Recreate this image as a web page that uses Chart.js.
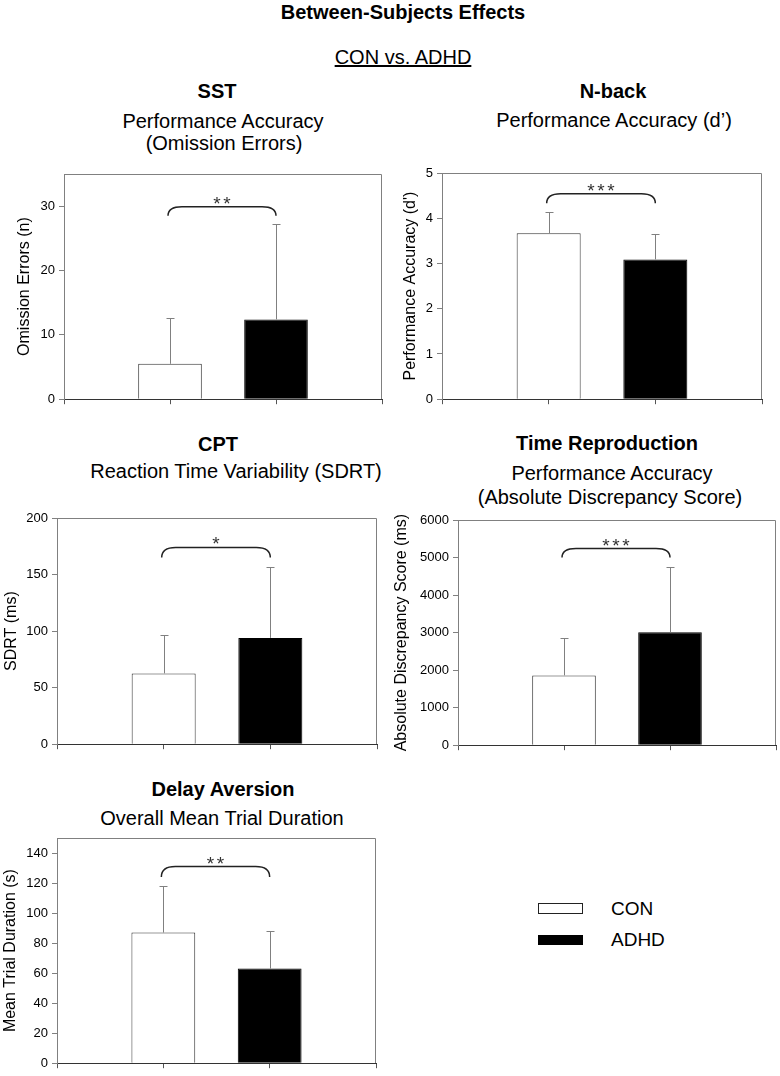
<!DOCTYPE html>
<html>
<head>
<meta charset="utf-8">
<script src="https://cdn.jsdelivr.net/npm/chart.js@4.4.0/dist/chart.umd.min.js"></script>
<style>
  body { margin: 0; background: #fff; }
  #page { position: relative; width: 780px; height: 1076px; overflow: hidden;
          font-family: "Liberation Sans", Arial, sans-serif; color: #000; }
  .lbl { position: absolute; width: 440px; text-align: center; white-space: nowrap;
         font-size: 20px; line-height: 24px; }
  .bold { font-weight: bold; }
  canvas { position: absolute; }
  .key { position: absolute; left: 538px; width: 45px; box-sizing: border-box; }
  .keytxt { position: absolute; left: 611px; font-size: 19px; line-height: 22px; }
</style>
</head>
<body>
<div id="page">
  <div class="lbl bold" style="left:183px;top:0px">Between-Subjects Effects</div>
  <div class="lbl" style="left:183px;top:45px"><u>CON vs. ADHD</u></div>

  <div class="lbl bold" style="left:-3px;top:79px">SST</div>
  <div class="lbl" style="left:3px;top:109px">Performance Accuracy</div>
  <div class="lbl" style="left:4px;top:131px">(Omission Errors)</div>

  <div class="lbl bold" style="left:393px;top:79px">N-back</div>
  <div class="lbl" style="left:394px;top:108px">Performance Accuracy (d’)</div>

  <div class="lbl bold" style="left:-2px;top:432px">CPT</div>
  <div class="lbl" style="left:16px;top:459px">Reaction Time Variability (SDRT)</div>

  <div class="lbl bold" style="left:387px;top:431px">Time Reproduction</div>
  <div class="lbl" style="left:392px;top:461px">Performance Accuracy</div>
  <div class="lbl" style="left:390px;top:485px">(Absolute Discrepancy Score)</div>

  <div class="lbl bold" style="left:3px;top:777px">Delay Aversion</div>
  <div class="lbl" style="left:2px;top:806px">Overall Mean Trial Duration</div>

  <canvas id="sstChart"></canvas>
  <canvas id="nbackChart"></canvas>
  <canvas id="cptChart"></canvas>
  <canvas id="timeChart"></canvas>
  <canvas id="delayChart"></canvas>

  <div class="key" style="top:903px;height:11px;background:#fff;border:1.5px solid #222"></div>
  <div class="keytxt" style="top:898px">CON</div>
  <div class="key" style="top:935px;height:10px;background:#000"></div>
  <div class="keytxt" style="top:929px">ADHD</div>
</div>

<script>
const groups = ["CON", "ADHD"];
const groupPositions = [1, 2];

const sstMeans = [5.5, 12.4];
const sstSd = [7.1, 14.9];
const sstTicks = [0, 10, 20, 30];

const nbackMeans = [3.67, 3.09];
const nbackSd = [0.46, 0.56];
const nbackTicks = [0, 1, 2, 3, 4, 5];

const cptMeans = [62.6, 94];
const cptSd = [34, 62.5];
const cptTicks = [0, 50, 100, 150, 200];

const timeMeans = [1860, 3010];
const timeSd = [990, 1730];
const timeTicks = [0, 1000, 2000, 3000, 4000, 5000, 6000];

const delayMeans = [87, 63];
const delaySd = [31, 25];
const delayTicks = [0, 20, 40, 60, 80, 100, 120, 140];

// significance brackets: [ends, top, stars]
const sstBracket = [28.5, 29.9, "**"];
const nbackBracket = [4.33, 4.54, "***"];
const cptBracket = [165, 174, "*"];
const timeBracket = [5000, 5240, "***"];
const delayBracket = [124, 131, "**"];

Chart.defaults.font.family = '"Liberation Sans", Arial, sans-serif';
Chart.defaults.color = "#000";

const framePlugin = {
  id: "frame",
  beforeDatasetsDraw(chart) {
    const { ctx, chartArea: a } = chart;
    ctx.save();
    ctx.strokeStyle = "#808080";
    ctx.lineWidth = 1;
    ctx.beginPath();
    ctx.moveTo(Math.round(a.left) + 0.5, Math.round(a.top) + 0.5);
    ctx.lineTo(Math.round(a.right) - 0.5, Math.round(a.top) + 0.5);
    ctx.lineTo(Math.round(a.right) - 0.5, Math.round(a.bottom));
    ctx.stroke();
    ctx.restore();
  }
};

const errorBarPlugin = {
  id: "errorBars",
  afterDatasetsDraw(chart, args, opts) {
    const { ctx } = chart;
    const yScale = chart.scales.y;
    const meta = chart.getDatasetMeta(0);
    ctx.save();
    ctx.strokeStyle = "#808080";
    ctx.lineWidth = 1;
    meta.data.forEach((bar, i) => {
      const x = Math.round(bar.x) + 0.5;
      const top = Math.round(yScale.getPixelForValue(opts.means[i] + opts.sd[i])) + 0.5;
      ctx.beginPath();
      ctx.moveTo(x, bar.y);
      ctx.lineTo(x, top);
      ctx.moveTo(x - 4, top);
      ctx.lineTo(x + 4, top);
      ctx.stroke();
    });
    ctx.restore();
  }
};

const bracketPlugin = {
  id: "sigBracket",
  afterDatasetsDraw(chart, args, opts) {
    const { ctx } = chart;
    const xs = chart.scales.x;
    const ys = chart.scales.y;
    const [endVal, topVal, stars] = opts.bracket;
    const x1 = xs.getPixelForValue(groupPositions[0]) - 2;
    const x2 = xs.getPixelForValue(groupPositions[1]);
    const yEnd = ys.getPixelForValue(endVal);
    const yTop = ys.getPixelForValue(topVal);
    const r = 14;
    ctx.save();
    ctx.strokeStyle = "#222";
    ctx.lineWidth = 1.5;
    ctx.beginPath();
    ctx.moveTo(x1, yEnd);
    ctx.quadraticCurveTo(x1, yTop, x1 + r, yTop);
    ctx.lineTo(x2 - r, yTop);
    ctx.quadraticCurveTo(x2, yTop, x2, yEnd);
    ctx.stroke();

    ctx.fillStyle = "#333";
    ctx.font = '19px "Liberation Sans", Arial, sans-serif';
    ctx.textAlign = "center";
    ctx.textBaseline = "alphabetic";
    const cx = (x1 + x2) / 2;
    const cy = yTop - 8;
    for (let i = 0; i < stars.length; i++) {
      ctx.fillText("*", cx + (i - (stars.length - 1) / 2) * 10, cy + 11);
    }
    ctx.restore();
  }
};

function makeChart(id, box, means, sd, tickValues, yMax, yTitle, bracket) {
  const padTop = 12, padRight = 4, xAxisH = 8;
  const yAxisW = box.left - box.canvasLeft;
  const canvas = document.getElementById(id);
  canvas.width = yAxisW + (box.right - box.left) + padRight;
  canvas.height = padTop + (box.bottom - box.top) + xAxisH;
  canvas.style.left = box.canvasLeft + "px";
  canvas.style.top = (box.top - padTop) + "px";

  return new Chart(canvas, {
    type: "bar",
    data: {
      datasets: [{
        data: groups.map((g, i) => ({ x: groupPositions[i], y: means[i] })),
        backgroundColor: ["#ffffff", "#000000"],
        borderColor: ["#333333", "#000000"],
        borderWidth: 1,
        borderSkipped: "bottom",
        barPercentage: 0.6,
        categoryPercentage: 1
      }]
    },
    options: {
      responsive: false,
      animation: false,
      layout: { padding: { top: padTop, right: padRight, left: 0, bottom: 0 } },
      plugins: {
        legend: { display: false },
        tooltip: { enabled: false },
        errorBars: { means, sd },
        sigBracket: { bracket }
      },
      scales: {
        x: {
          type: "linear",
          min: 0,
          max: 3,
          offset: false,
          afterBuildTicks: (scale) => { scale.ticks = [0, 1, 2, 3].map((v) => ({ value: v })); },
          afterFit: (scale) => { scale.height = xAxisH; },
          ticks: { display: false },
          grid: { offset: false, drawOnChartArea: false, drawTicks: true, tickLength: 5, color: "#555" },
          border: { display: true, color: "#333", width: 1 }
        },
        y: {
          min: 0,
          max: yMax,
          afterBuildTicks: (scale) => { scale.ticks = tickValues.map((v) => ({ value: v })); },
          afterFit: (scale) => { scale.width = yAxisW; },
          ticks: { font: { size: 13 }, color: "#000", padding: 4, callback: (v) => String(v) },
          grid: { drawOnChartArea: false, drawTicks: true, tickLength: 5, color: "#808080" },
          border: { display: true, color: "#808080", width: 1 },
          title: {
            display: true,
            text: yTitle,
            color: "#000",
            font: { size: 16 },
            padding: { top: box.titleX - box.canvasLeft - 9.6, bottom: 0 }
          }
        }
      }
    },
    plugins: [framePlugin, errorBarPlugin, bracketPlugin]
  });
}

makeChart("sstChart", { canvasLeft: 0, left: 64, top: 174, right: 382, bottom: 403, titleX: 25 },
  sstMeans, sstSd, sstTicks, 35, "Omission Errors (n)", sstBracket);
makeChart("nbackChart", { canvasLeft: 390, left: 442, top: 173, right: 762, bottom: 403, titleX: 411 },
  nbackMeans, nbackSd, nbackTicks, 5, "Performance Accuracy (d')", nbackBracket);
makeChart("cptChart", { canvasLeft: 0, left: 57, top: 518, right: 377, bottom: 748, titleX: 12 },
  cptMeans, cptSd, cptTicks, 200, "SDRT (ms)", cptBracket);
makeChart("timeChart", { canvasLeft: 390, left: 458, top: 520, right: 776, bottom: 749, titleX: 402 },
  timeMeans, timeSd, timeTicks, 6000, "Absolute Discrepancy Score (ms)", timeBracket);
makeChart("delayChart", { canvasLeft: 0, left: 57, top: 838, right: 376, bottom: 1067, titleX: 11 },
  delayMeans, delaySd, delayTicks, 150, "Mean Trial Duration (s)", delayBracket);
</script>
</body>
</html>
